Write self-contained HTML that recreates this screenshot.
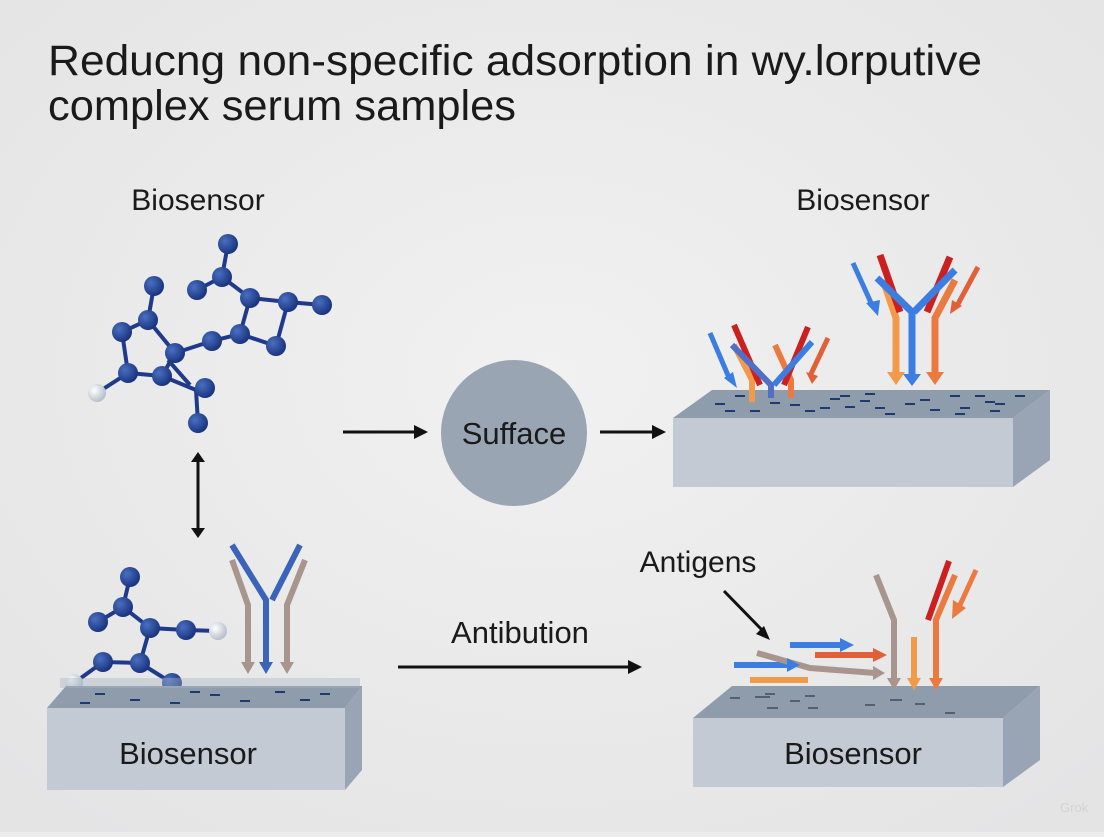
<!DOCTYPE html>
<html><head><meta charset="utf-8"><style>
html,body{margin:0;padding:0}
body{width:1104px;height:832px;background:#ececec;overflow:hidden;font-family:"Liberation Sans",sans-serif}
</style></head><body>
<svg width="1104" height="832" viewBox="0 0 1104 832" xmlns="http://www.w3.org/2000/svg">
<defs>
<radialGradient id="bg" cx="50%" cy="45%" r="70%"><stop offset="0" stop-color="#f1f1f1"/><stop offset="1" stop-color="#e4e4e5"/></radialGradient>
<radialGradient id="ball" cx="35%" cy="35%" r="65%"><stop offset="0" stop-color="#4a6fc0"/><stop offset="1" stop-color="#1a3580"/></radialGradient>
<radialGradient id="wball" cx="35%" cy="35%" r="65%"><stop offset="0" stop-color="#ffffff"/><stop offset="1" stop-color="#b8c0cc"/></radialGradient>
</defs>
<rect width="1104" height="832" fill="url(#bg)"/>
<text x="48" y="75" font-size="43" fill="#1a1a1a" textLength="934" lengthAdjust="spacingAndGlyphs">Reducng non-specific adsorption in wy.lorputive</text>
<text x="48" y="120" font-size="43" fill="#1a1a1a" textLength="468" lengthAdjust="spacingAndGlyphs">complex serum samples</text>

<text x="198" y="210" font-size="30" text-anchor="middle" fill="#1a1a1a">Biosensor</text>
<text x="863" y="210" font-size="30" text-anchor="middle" fill="#1a1a1a">Biosensor</text>

<!-- top-left molecule -->
<g stroke="#1f3a8a" stroke-width="4" fill="none">
<polyline points="148,320 122,332 128,373 162,376 175,353 148,320"/>
<line x1="154" y1="286" x2="148" y2="320"/>
<polyline points="175,353 212,341 240,334 250,298 222,277 228,244"/>
<line x1="222" y1="277" x2="197" y2="290"/>
<polyline points="250,298 288,302 276,346 240,334"/>
<line x1="288" y1="302" x2="322" y2="305"/>
<polyline points="162,376 196,390 205,388"/>
<line x1="196" y1="390" x2="198" y2="423"/>
<line x1="128" y1="373" x2="97" y2="393"/>
<line x1="168" y1="360" x2="190" y2="385"/>
</g>
<g fill="url(#ball)">
<circle cx="228" cy="244" r="10"/><circle cx="222" cy="277" r="10"/><circle cx="197" cy="290" r="10"/><circle cx="250" cy="298" r="10"/>
<circle cx="154" cy="286" r="10"/><circle cx="148" cy="320" r="10"/><circle cx="122" cy="332" r="10"/><circle cx="128" cy="373" r="10"/>
<circle cx="162" cy="376" r="10"/><circle cx="175" cy="353" r="10"/><circle cx="212" cy="341" r="10"/><circle cx="240" cy="334" r="10"/>
<circle cx="288" cy="302" r="10"/><circle cx="322" cy="305" r="10"/><circle cx="276" cy="346" r="10"/><circle cx="205" cy="388" r="10"/><circle cx="198" cy="423" r="10"/>
</g>
<circle cx="97" cy="393" r="9" fill="url(#wball)"/>

<!-- vertical double arrow -->
<line x1="198" y1="460" x2="198" y2="530" stroke="#111" stroke-width="3"/>
<path d="M191,462 L198,452 L205,462z M191,528 L198,538 L205,528z" fill="#111"/>

<!-- arrows to circle -->
<line x1="343" y1="432" x2="418" y2="432" stroke="#111" stroke-width="3"/><path d="M414,425 L428,432 L414,439z" fill="#111"/>
<circle cx="514" cy="433" r="73" fill="#9aa5b4"/>
<text x="514" y="444" font-size="31" text-anchor="middle" fill="#1a1a1a">Sufface</text>
<line x1="600" y1="432" x2="656" y2="432" stroke="#111" stroke-width="3"/><path d="M652,425 L666,432 L652,439z" fill="#111"/>

<!-- top-right slab -->
<polygon points="673,418 712,390 1050,390 1013,418" fill="#8f9cac"/>
<polygon points="673,418 1013,418 1013,487 673,487" fill="#c3cad3"/>
<polygon points="1013,418 1050,390 1050,460 1013,487" fill="#99a5b4"/>
<g stroke="#1f3a6e" stroke-width="2">
<line x1="735" y1="396" x2="745" y2="396"/><line x1="715" y1="404" x2="725" y2="404"/><line x1="725" y1="411" x2="735" y2="411"/><line x1="750" y1="411" x2="760" y2="411"/>
<line x1="770" y1="403" x2="780" y2="403"/><line x1="790" y1="405" x2="800" y2="405"/><line x1="805" y1="411" x2="815" y2="411"/><line x1="820" y1="408" x2="830" y2="408"/>
<line x1="830" y1="399" x2="840" y2="399"/><line x1="840" y1="396" x2="850" y2="396"/><line x1="845" y1="407" x2="855" y2="407"/><line x1="860" y1="401" x2="870" y2="401"/>
<line x1="865" y1="394" x2="875" y2="394"/><line x1="875" y1="408" x2="885" y2="408"/><line x1="885" y1="414" x2="895" y2="414"/><line x1="905" y1="404" x2="915" y2="404"/>
<line x1="920" y1="400" x2="930" y2="400"/><line x1="930" y1="410" x2="940" y2="410"/><line x1="950" y1="396" x2="960" y2="396"/><line x1="955" y1="414" x2="965" y2="414"/>
<line x1="960" y1="408" x2="970" y2="408"/><line x1="975" y1="396" x2="985" y2="396"/><line x1="985" y1="402" x2="995" y2="402"/><line x1="995" y1="404" x2="1005" y2="404"/>
<line x1="1015" y1="396" x2="1025" y2="396"/><line x1="990" y1="411" x2="1000" y2="411"/>
</g>
<g stroke-width="6" fill="none" stroke-linecap="butt">
<path d="M734,345 L752,380 L752,402" stroke="#f09a4a"/>
<path d="M775,345 L791,380 L791,398" stroke="#ea7a40"/>
<line x1="734" y1="325" x2="760" y2="385" stroke="#cc2020"/>
<line x1="808" y1="327" x2="784" y2="385" stroke="#cc2020"/>
<path d="M732,345 L771,385 L771,398" stroke="#4f6fc8"/>
<line x1="812" y1="342" x2="774" y2="385" stroke="#3b7de0"/>
<path d="M710,333 L730,380" stroke="#3b7de0" stroke-width="5"/>
<path d="M828,338 L810,376" stroke="#e0603a" stroke-width="5"/>
</g>
<path d="M724,378 L737,388 L733,372z" fill="#3b7de0"/>
<path d="M806,372 L812,384 L818,376z" fill="#e0603a"/>
<g stroke-width="7" fill="none">
<path d="M883,280 L896,318 L896,375" stroke="#f09a4a"/>
<path d="M955,280 L935,318 L935,375" stroke="#ea7a40"/>
<line x1="880" y1="255" x2="900" y2="312" stroke="#cc2020"/>
<line x1="950" y1="257" x2="927" y2="312" stroke="#cc2020"/>
<path d="M877,278 L912,312 L912,378" stroke="#3b7de0"/>
<line x1="955" y1="270" x2="914" y2="312" stroke="#3b7de0"/>
<line x1="853" y1="263" x2="872" y2="305" stroke="#3b7de0" stroke-width="5"/>
<line x1="978" y1="267" x2="958" y2="304" stroke="#e0603a" stroke-width="5"/>
</g>
<path d="M887,372 L905,372 L896,385z" fill="#f09a4a"/>
<path d="M903,374 L921,374 L912,386z" fill="#3b7de0"/>
<path d="M926,372 L944,372 L935,385z" fill="#ea7a40"/>
<path d="M866,303 L878,316 L880,300z" fill="#3b7de0"/>
<path d="M952,300 L950,314 L962,306z" fill="#e0603a"/>

<!-- bottom-left molecule -->
<g stroke="#1f3a8a" stroke-width="4" fill="none">
<polyline points="130,577 123,607 98,622"/>
<polyline points="123,607 150,628 186,630 218,631"/>
<polyline points="150,628 140,663 103,662 74,683"/>
<polyline points="140,663 172,683"/>
</g>
<g fill="url(#ball)">
<circle cx="130" cy="577" r="10"/><circle cx="123" cy="607" r="10"/><circle cx="98" cy="622" r="10"/><circle cx="150" cy="628" r="10"/>
<circle cx="186" cy="630" r="10"/><circle cx="140" cy="663" r="10"/><circle cx="103" cy="662" r="10"/><circle cx="172" cy="683" r="10"/>
</g>
<circle cx="218" cy="631" r="9" fill="url(#wball)"/><circle cx="74" cy="683" r="9" fill="url(#wball)"/>
<g stroke-width="6" fill="none">
<path d="M232,560 L248,605 L248,665" stroke="#a8958e"/>
<path d="M305,560 L287,605 L287,665" stroke="#a8958e"/>
<path d="M232,545 L266,600 L266,665" stroke="#3b63b8"/>
<path d="M300,545 L272,600" stroke="#3b63b8"/>
</g>
<path d="M241,662 L255,662 L248,674z M280,662 L294,662 L287,674z" fill="#a8958e"/>
<path d="M259,662 L273,662 L266,674z" fill="#3b63b8"/>
<polygon points="47,708 66,686 362,686 345,708" fill="#8f9cac"/>
<rect x="60" y="678" width="300" height="10" fill="#a8b4c4" opacity="0.4"/>
<polygon points="47,708 345,708 345,790 47,790" fill="#c3cad3"/>
<polygon points="345,708 362,686 362,770 345,790" fill="#99a5b4"/>
<g stroke="#1f3a6e" stroke-width="2">
<line x1="95" y1="694" x2="105" y2="694"/><line x1="130" y1="700" x2="140" y2="700"/><line x1="170" y1="703" x2="180" y2="703"/><line x1="210" y1="695" x2="220" y2="695"/>
<line x1="240" y1="701" x2="250" y2="701"/><line x1="275" y1="692" x2="285" y2="692"/><line x1="300" y1="700" x2="310" y2="700"/><line x1="320" y1="694" x2="330" y2="694"/>
<line x1="80" y1="703" x2="90" y2="703"/><line x1="190" y1="692" x2="200" y2="692"/>
</g>
<text x="188" y="764" font-size="31" text-anchor="middle" fill="#1a1a1a">Biosensor</text>

<text x="520" y="643" font-size="31" text-anchor="middle" fill="#1a1a1a">Antibution</text>
<line x1="398" y1="667" x2="632" y2="667" stroke="#111" stroke-width="3"/><path d="M628,660 L642,667 L628,674z" fill="#111"/>

<text x="698" y="572" font-size="30" text-anchor="middle" fill="#1a1a1a">Antigens</text>
<line x1="724" y1="591" x2="762" y2="630" stroke="#111" stroke-width="3"/><path d="M756,634 L770,640 L764,626z" fill="#111"/>
<polygon points="693,718 732,686 1040,686 1003,718" fill="#8f9cac"/>
<polygon points="693,718 1003,718 1003,787 693,787" fill="#c3cad3"/>
<polygon points="1003,718 1040,686 1040,760 1003,787" fill="#99a5b4"/>
<g stroke="#55606e" stroke-width="2">
<line x1="730" y1="698" x2="740" y2="698"/><line x1="755" y1="697" x2="770" y2="697"/><line x1="765" y1="694" x2="775" y2="694"/><line x1="790" y1="701" x2="800" y2="701"/>
<line x1="805" y1="696" x2="815" y2="696"/><line x1="767" y1="708" x2="778" y2="708"/><line x1="808" y1="708" x2="818" y2="708"/><line x1="865" y1="705" x2="875" y2="705"/>
<line x1="890" y1="700" x2="902" y2="700"/><line x1="915" y1="704" x2="925" y2="704"/><line x1="945" y1="713" x2="955" y2="713"/>
</g>
<g fill="none" stroke-width="6">
<line x1="790" y1="645" x2="842" y2="645" stroke="#3b7de0"/>
<line x1="815" y1="655" x2="875" y2="655" stroke="#e0603a"/>
<line x1="734" y1="665" x2="790" y2="665" stroke="#3b7de0"/>
<path d="M757,653 L810,668 L875,673" stroke="#a8958e"/>
<line x1="750" y1="680" x2="808" y2="680" stroke="#f09a4a"/>
<path d="M876,575 L894,620 L894,680" stroke="#a8958e"/>
<line x1="914" y1="637" x2="914" y2="682" stroke="#f09a4a"/>
<path d="M955,575 L936,620 L936,680" stroke="#ea7a40"/>
<line x1="949" y1="561" x2="928" y2="620" stroke="#cc2020"/>
<line x1="976" y1="570" x2="960" y2="605" stroke="#ea7a40" stroke-width="5"/>
</g>
<path d="M840,638 L854,645 L840,652z" fill="#3b7de0"/>
<path d="M873,648 L887,655 L873,662z" fill="#e0603a"/>
<path d="M787,658 L800,665 L787,672z" fill="#3b7de0"/>
<path d="M873,666 L885,673 L873,680z" fill="#a8958e"/>
<path d="M887,678 L901,678 L894,690z" fill="#a8958e"/>
<path d="M907,678 L921,678 L914,690z" fill="#f09a4a"/>
<path d="M929,678 L943,678 L936,690z" fill="#ea7a40"/>
<path d="M953,600 L952,619 L966,608z" fill="#ea7a40"/>
<text x="853" y="764" font-size="31" text-anchor="middle" fill="#1a1a1a">Biosensor</text>
<text x="1060" y="812" font-size="13" fill="#d4d4d4">Grok</text>
</svg>
</body></html>
